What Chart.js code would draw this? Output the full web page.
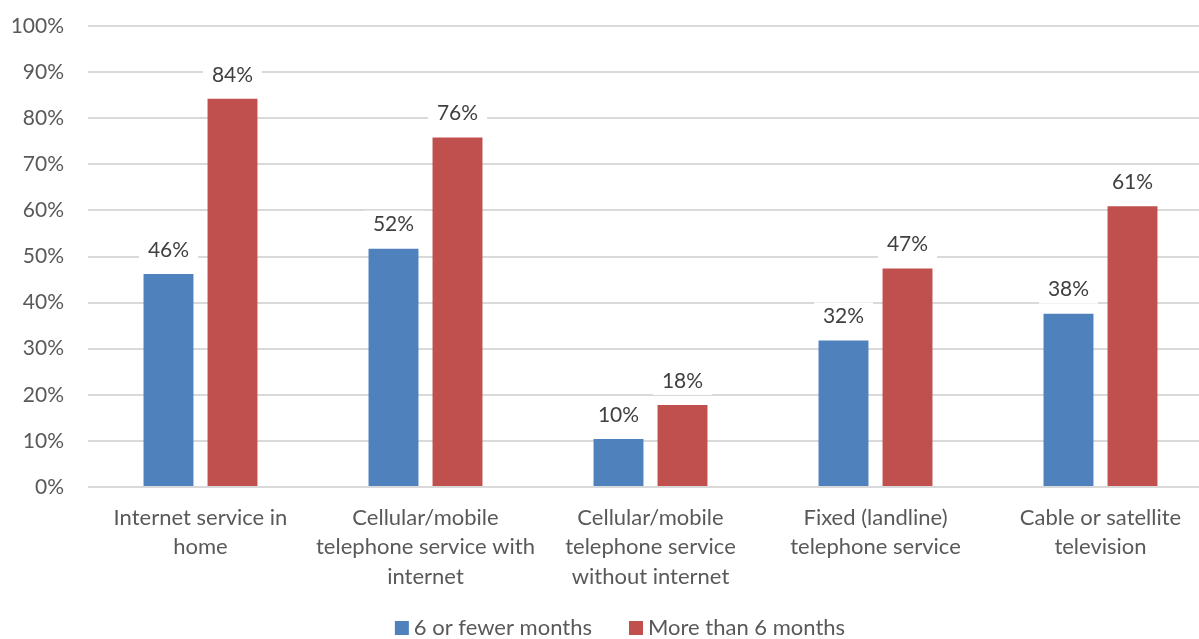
<!DOCTYPE html>
<html>
<head>
<meta charset="utf-8">
<script src="https://cdn.jsdelivr.net/npm/chart.js@4.4.1/dist/chart.umd.min.js"></script>
<style>
  html, body { margin: 0; padding: 0; background: #fff; overflow: hidden; }
  #wrap { width: 1213px; height: 639px; }
</style>
</head>
<body>
<div id="wrap"><canvas id="serviceChart"></canvas></div>
<script>
const categories = [
    ['Internet service in', 'home'],
    ['Cellular/mobile', 'telephone service with', 'internet'],
    ['Cellular/mobile', 'telephone service', 'without internet'],
    ['Fixed (landline)', 'telephone service'],
    ['Cable or satellite', 'television']
];
const seriesNames = ['6 or fewer months', 'More than 6 months'];
const fewerMonths = [46.2, 51.7, 10.4, 31.8, 37.6];
const moreMonths = [84.2, 75.8, 17.8, 47.4, 60.9];
const yTicks = [0, 10, 20, 30, 40, 50, 60, 70, 80, 90, 100];

const fontFamily = 'Lato, "Open Sans", sans-serif';

// value labels sitting above each bar on a white box
const barLabels = {
    id: 'barLabels',
    afterDatasetsDraw(chart) {
        const ctx = chart.ctx;
        ctx.save();
        ctx.font = '21px ' + fontFamily;
        ctx.textAlign = 'center';
        ctx.textBaseline = 'middle';
        chart.data.datasets.forEach((ds, i) => {
            chart.getDatasetMeta(i).data.forEach((bar, j) => {
                const text = Math.round(ds.data[j]) + '%';
                const w = ctx.measureText(text).width + 18;
                const cy = bar.y - 24;
                ctx.fillStyle = '#ffffff';
                ctx.fillRect(bar.x - w / 2, cy - 14, w, 28);
                ctx.fillStyle = '#404040';
                ctx.fillText(text, bar.x, cy);
            });
        });
        ctx.restore();
    }
};

// legend row under the axis labels: square swatch + name
const bottomLegend = {
    id: 'bottomLegend',
    afterDraw(chart) {
        const ctx = chart.ctx;
        ctx.save();
        ctx.font = '22px ' + fontFamily;
        ctx.textBaseline = 'middle';
        const cy = 628;
        const gap = 37;
        const items = chart.data.datasets.map(ds => ({
            color: ds.backgroundColor,
            text: ds.label,
            w: 14 + 5 + ctx.measureText(ds.label).width
        }));
        const total = items.reduce((s, it) => s + it.w, 0) + gap * (items.length - 1);
        let x = 620 - total / 2;
        items.forEach(it => {
            ctx.fillStyle = it.color;
            ctx.fillRect(x, cy - 7, 14, 14);
            ctx.fillStyle = '#595959';
            ctx.fillText(it.text, x + 19, cy);
            x += it.w + gap;
        });
        ctx.restore();
    }
};

const ctx = document.getElementById('serviceChart').getContext('2d');
new Chart(ctx, {
    type: 'bar',
    data: {
        labels: categories,
        datasets: [{
            label: seriesNames[0],
            data: fewerMonths,
            backgroundColor: '#4F81BD'
        }, {
            label: seriesNames[1],
            data: moreMonths,
            backgroundColor: '#C0504D'
        }]
    },
    options: {
        responsive: true,
        maintainAspectRatio: false,
        animation: false,
        categoryPercentage: 0.569,
        barPercentage: 0.78,
        layout: {
            padding: { top: 26, right: 0, left: 0, bottom: 0 }
        },
        plugins: {
            legend: { display: false },
            tooltip: { enabled: false }
        },
        scales: {
            x: {
                afterFit(scale) {
                    scale.height = 152;
                },
                grid: { display: false, drawTicks: false },
                border: { display: false },
                ticks: {
                    font: { family: fontFamily, size: 22, lineHeight: 1.34 },
                    color: '#595959',
                    padding: 16,
                    maxRotation: 0,
                    autoSkip: false
                }
            },
            y: {
                min: 0,
                max: 100,
                afterBuildTicks(scale) {
                    scale.ticks = yTicks.map(v => ({ value: v }));
                },
                afterFit(scale) {
                    scale.width = 88;
                    scale.paddingTop = 0;
                    scale.paddingBottom = 0;
                },
                grid: { color: '#d9d9d9', lineWidth: 2, drawTicks: false },
                border: { display: false },
                ticks: {
                    font: { family: fontFamily, size: 21 },
                    color: '#595959',
                    padding: 24,
                    callback: v => v + '%'
                }
            }
        }
    },
    plugins: [barLabels, bottomLegend]
});
</script>
</body>
</html>
